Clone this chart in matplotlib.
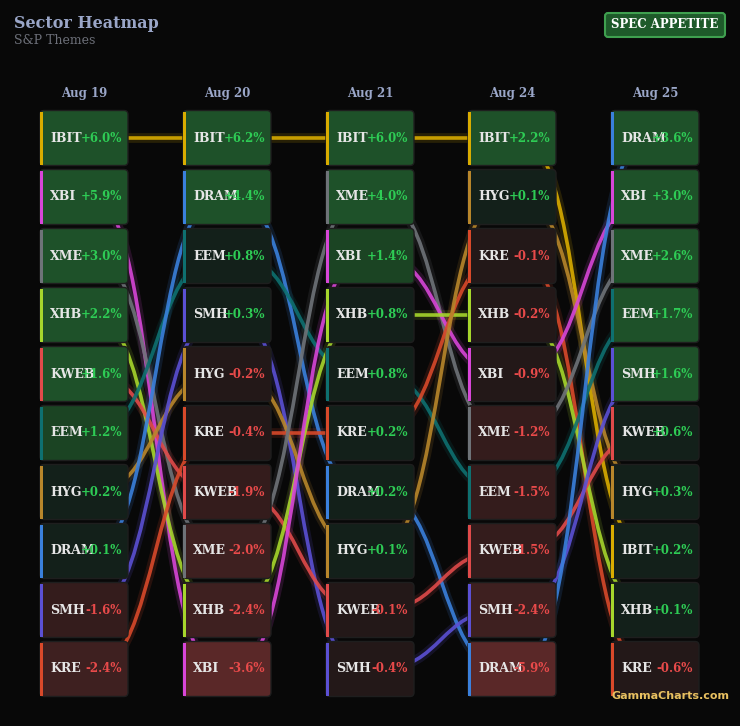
import numpy as np
import matplotlib.pyplot as plt
from matplotlib.patches import FancyBboxPatch, Rectangle
from matplotlib.path import Path
from matplotlib.patches import PathPatch

days = ["Aug 19", "Aug 20", "Aug 21", "Aug 24", "Aug 25"]
ranks = [
    ["IBIT", "XBI", "XME", "XHB", "KWEB", "EEM", "HYG", "DRAM", "SMH", "KRE"],
    ["IBIT", "DRAM", "EEM", "SMH", "HYG", "KRE", "KWEB", "XME", "XHB", "XBI"],
    ["IBIT", "XME", "XBI", "XHB", "EEM", "KRE", "DRAM", "HYG", "KWEB", "SMH"],
    ["IBIT", "HYG", "KRE", "XHB", "XBI", "XME", "EEM", "KWEB", "SMH", "DRAM"],
    ["DRAM", "XBI", "XME", "EEM", "SMH", "KWEB", "HYG", "IBIT", "XHB", "KRE"],
]
values = [
    [6.0, 5.9, 3.0, 2.2, 1.6, 1.2, 0.2, 0.1, -1.6, -2.4],
    [6.2, 4.4, 0.8, 0.3, -0.2, -0.4, -1.9, -2.0, -2.4, -3.6],
    [6.0, 4.0, 1.4, 0.8, 0.8, 0.2, 0.2, 0.1, -0.1, -0.4],
    [2.2, 0.1, -0.1, -0.2, -0.9, -1.2, -1.5, -1.5, -2.4, -5.9],
    [3.6, 3.0, 2.6, 1.7, 1.6, 0.6, 0.3, 0.2, 0.1, -0.6],
]
colors = {
    "IBIT": "#d9ac00", "XBI": "#d846d8", "XME": "#6e7378", "XHB": "#a6d62c",
    "KWEB": "#e04a4a", "EEM": "#0e7070", "HYG": "#b8862b", "DRAM": "#3a80dc",
    "SMH": "#5b50d4", "KRE": "#d9492a",
}

BG = "#080808"
plt.rcParams['font.family'] = ['DejaVu Serif']
fig = plt.figure(figsize=(7.4, 7.26), dpi=100, facecolor=BG)
ax = fig.add_axes([0, 0, 1, 1])
ax.set_xlim(0, 740)
ax.set_ylim(726, 0)
ax.axis("off")
ax.set_facecolor(BG)

col_x = [84, 227, 370, 512, 655]
row_y0, row_step = 138, 59
cw, ch = 88, 55


def cell_color(v):
    if v >= 1.5:
        return "#1e5129"
    if v >= 1.0:
        return "#1b4423"
    if v >= 0:
        return "#13201a"
    if v > -1.0:
        return "#231818"
    if v > -2.0:
        return "#341c1c"
    if v > -3.0:
        return "#3e2020"
    return "#5a2828"


def pos(d, t):
    return row_y0 + ranks[d].index(t) * row_step

# connection curves, centre to centre, mostly hidden behind the cells
for d in range(len(days) - 1):
    for t in ranks[d]:
        y1, y2 = pos(d, t), pos(d + 1, t)
        x1, x2 = col_x[d] + 10, col_x[d + 1] - 10
        xm = (x1 + x2) / 2
        path = Path([(x1, y1), (xm, y1), (xm, y2), (x2, y2)],
                    [Path.MOVETO, Path.CURVE4, Path.CURVE4, Path.CURVE4])
        ax.add_patch(PathPatch(path, fc="none", ec=colors[t], lw=7, alpha=0.15, zorder=1))
        ax.add_patch(PathPatch(path, fc="none", ec=colors[t], lw=2.6, alpha=0.9, zorder=2))

# cells
for d, day in enumerate(days):
    cx = col_x[d]
    ax.text(cx, 94, day, color="#9aa6c8", fontsize=8.5, fontweight="bold", ha="center", va="center")
    for t, v in zip(ranks[d], values[d]):
        cy = pos(d, t)
        x0, yt = cx - cw / 2, cy - ch / 2
        ax.add_patch(FancyBboxPatch((x0, yt), cw, ch, boxstyle="round,pad=0,rounding_size=4",
                                    fc=cell_color(v), ec="#1e1e1e", lw=1, zorder=3))
        ax.add_patch(Rectangle((x0, yt + 1), 3, ch - 2, fc=colors[t], ec="none", zorder=4))
        ax.text(x0 + 10, cy, t, color="#e6e6e6", fontsize=9, fontweight="bold",
                ha="left", va="center", zorder=5)
        ax.text(x0 + 82, cy, f"{v:+.1f}%", color="#2ecc55" if v >= 0 else "#e84a4a",
                fontsize=8.5, fontweight="bold", ha="right", va="center", zorder=5)

ax.text(14, 24, "Sector Heatmap", color="#9aa6c8", fontsize=11.5, fontweight="bold", va="center")
ax.text(14, 41, "S&P Themes", color="#6c6f78", fontsize=9, va="center")
ax.add_patch(FancyBboxPatch((605, 13), 120, 24, boxstyle="round,pad=0,rounding_size=3",
                            fc="#1e5a2a", ec="#3fa04f", lw=1.5))
ax.text(665, 25, "SPEC APPETITE", color="white", fontsize=8.5, fontweight="bold", ha="center", va="center")
ax.text(730, 696, "GammaCharts.com", color="#e8c060", fontsize=8, fontweight="bold",
        family="DejaVu Sans", ha="right", va="center", zorder=6)

fig.savefig("out.png", dpi=100, facecolor=BG)
